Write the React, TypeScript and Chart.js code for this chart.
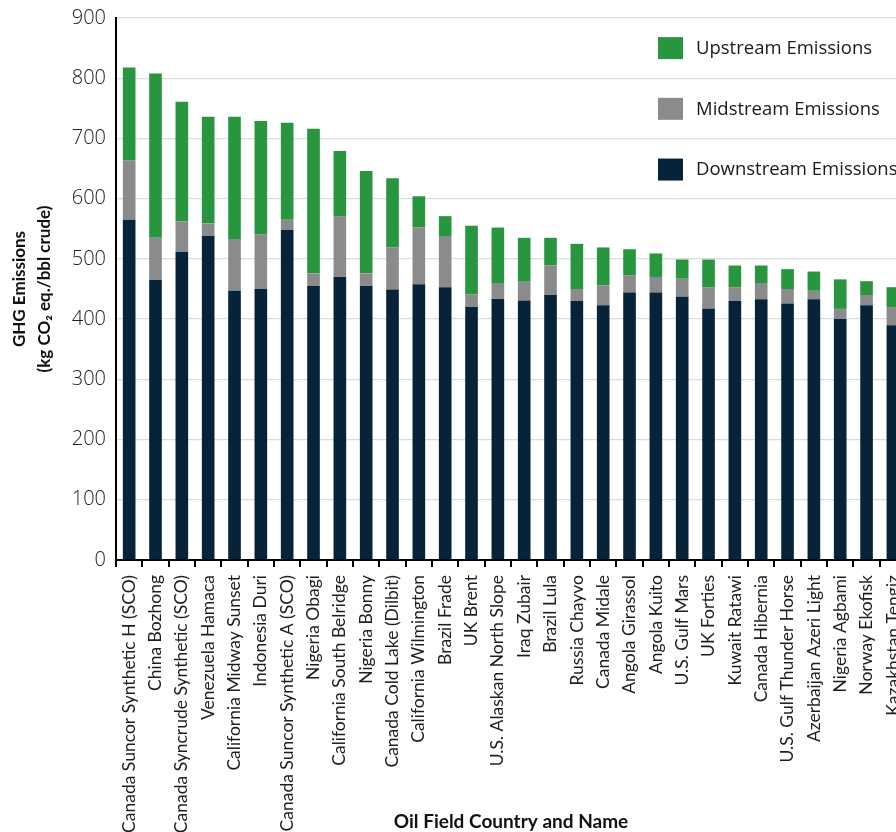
import React, { useEffect, useRef } from 'react';
import { Chart, registerables } from 'chart.js';

Chart.register(...registerables);

const categories = [
  'Canada Suncor Synthetic H (SCO)',
  'China Bozhong',
  'Canada Syncrude Synthetic (SCO)',
  'Venezuela Hamaca',
  'California Midway Sunset',
  'Indonesia Duri',
  'Canada Suncor Synthetic A (SCO)',
  'Nigeria Obagi',
  'California South Belridge',
  'Nigeria Bonny',
  'Canada Cold Lake (Dilbit)',
  'California Wilmington',
  'Brazil Frade',
  'UK Brent',
  'U.S. Alaskan North Slope',
  'Iraq Zubair',
  'Brazil Lula',
  'Russia Chayvo',
  'Canada Midale',
  'Angola Girassol',
  'Angola Kuito',
  'U.S. Gulf Mars',
  'UK Forties',
  'Kuwait Ratawi',
  'Canada Hibernia',
  'U.S. Gulf Thunder Horse',
  'Azerbaijan Azeri Light',
  'Nigeria Agbami',
  'Norway Ekofisk',
  'Kazakhstan Tengiz',
];

const downstream = [565, 465, 512, 538, 447, 450, 548, 455, 470, 455, 449, 458, 453, 420, 434, 431, 440, 430, 423, 444, 444, 437, 417, 430, 433, 426, 433, 400, 423, 390];
const midstream = [99, 70, 50, 21, 86, 91, 17, 21, 101, 21, 70, 94, 85, 21, 26, 31, 49, 20, 33, 29, 26, 30, 36, 23, 27, 24, 14, 17, 17, 30];
const upstream = [154, 273, 199, 177, 203, 188, 161, 240, 108, 170, 115, 52, 33, 114, 92, 73, 46, 75, 63, 43, 39, 32, 46, 36, 29, 33, 32, 49, 23, 33];

const seriesNames = ['Upstream Emissions', 'Midstream Emissions', 'Downstream Emissions'];
const seriesColors = ['#28963f', '#8b8b8b', '#06233a'];

const yTitle = ['GHG Emissions', '(kg CO\u2082 eq./bbl crude)'];
const xTitle = 'Oil Field Country and Name';

const sideLegend = {
  id: 'sideLegend',
  afterDatasetsDraw(chart: any) {
    const { ctx } = chart;
    const y = chart.scales.y;
    ctx.save();
    seriesNames.forEach((name, i) => {
      const cy = y.getPixelForValue(850 - 100 * i) + i * 0.5;
      ctx.fillStyle = seriesColors[i];
      ctx.fillRect(658, cy - 11, 25, 22);
      ctx.fillStyle = '#1a1a1a';
      ctx.font = '18.5px "Open Sans", Lato, sans-serif';
      ctx.textBaseline = 'middle';
      ctx.textAlign = 'left';
      ctx.fillText(name, 696, cy + 0.5);
    });
    ctx.restore();
  },
};

export default function App() {
  const ref = useRef<HTMLCanvasElement | null>(null);

  useEffect(() => {
    if (!ref.current) return;
    const chart = new Chart(ref.current, {
      type: 'bar',
      data: {
        labels: categories,
        datasets: [
          { label: seriesNames[2], data: downstream, backgroundColor: seriesColors[2] },
          { label: seriesNames[1], data: midstream, backgroundColor: seriesColors[1] },
          { label: seriesNames[0], data: upstream, backgroundColor: seriesColors[0] },
        ],
      },
      options: {
        responsive: false,
        animation: false,
        devicePixelRatio: 1,
        layout: { padding: { left: 0, top: 18, right: 7, bottom: 0 } },
        datasets: { bar: { categoryPercentage: 1, barPercentage: 0.48 } },
        plugins: { legend: { display: false }, tooltip: { enabled: false } },
        scales: {
          x: {
            stacked: true,
            grid: { drawOnChartArea: false, drawTicks: true, tickLength: 7, color: '#000', lineWidth: 2 },
            border: { display: true, color: '#000', width: 2 },
            ticks: {
              minRotation: 90,
              maxRotation: 90,
              autoSkip: false,
              padding: 8,
              color: '#1e1e1e',
              font: { family: '"Liberation Sans Narrow", Lato, sans-serif', size: 17.5 },
            },
            title: {
              display: true,
              text: xTitle,
              color: '#111',
              padding: { top: 0, bottom: 0 },
              font: { family: 'Lato, "Open Sans", sans-serif', size: 19, weight: 'bold', lineHeight: 1.1 },
            },
            afterFit: (scale: any) => {
              scale.height = 272;
            },
          },
          y: {
            stacked: true,
            min: 0,
            max: 900,
            grid: { drawTicks: true, tickLength: 10, tickColor: 'rgba(0,0,0,0)', color: '#dcdcdc', lineWidth: 1.3 },
            border: { display: true, color: '#000', width: 2 },
            ticks: {
              stepSize: 100,
              padding: 0,
              color: '#222',
              font: { family: '"Open Sans", Lato, sans-serif', size: 20, weight: '300' },
            },
            title: {
              display: true,
              text: yTitle,
              color: '#111',
              padding: { top: 7.5, bottom: 0 },
              font: { family: 'Lato, "Open Sans", sans-serif', size: 17, weight: 'bold', lineHeight: '25px' },
            },
            afterFit: (scale: any) => {
              scale.width = 116;
            },
          },
        },
      },
      plugins: [sideLegend],
    });
    return () => chart.destroy();
  }, []);

  return (
    <div style={{ position: 'absolute', left: 0, top: 0, width: 896, height: 832, overflow: 'hidden', background: '#fff' }}>
      <canvas ref={ref} width={922} height={832} style={{ display: 'block', width: 922, height: 832 }} />
    </div>
  );
}
